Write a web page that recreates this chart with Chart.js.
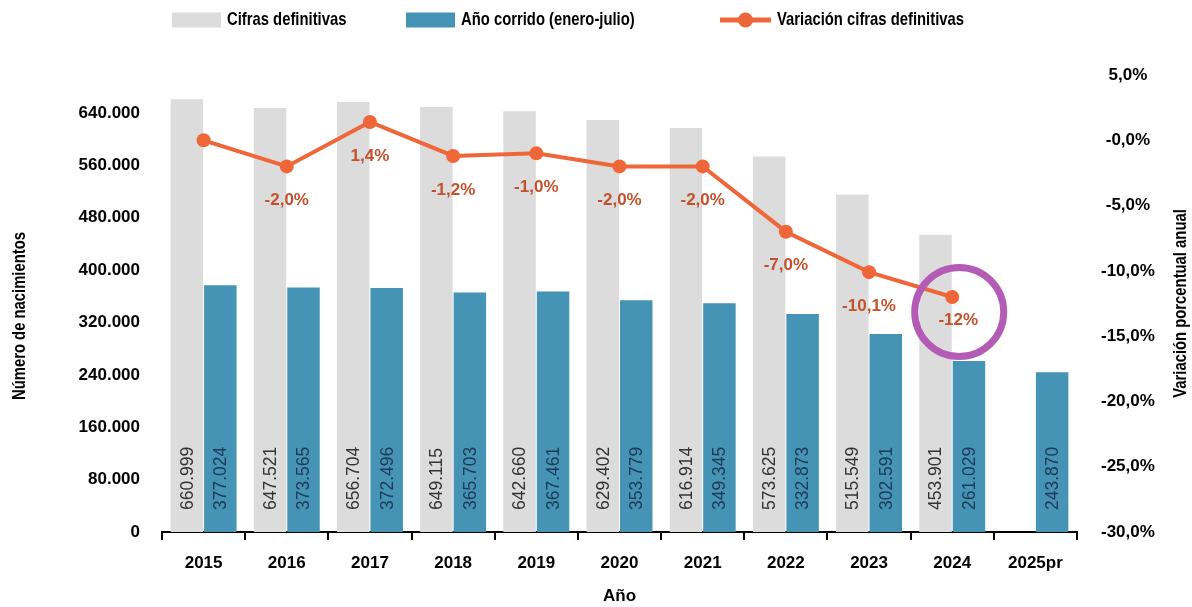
<!DOCTYPE html>
<html>
<head>
<meta charset="utf-8">
<script src="https://cdn.jsdelivr.net/npm/chart.js@4.4.1/dist/chart.umd.min.js"></script>
<style>
  html, body { margin: 0; padding: 0; background: #ffffff; }
  #wrap { width: 1192px; height: 607px; position: relative; }
</style>
</head>
<body>
<div id="wrap"><canvas id="c" width="1192" height="607"></canvas></div>
<script>
// ---------------- DATA ----------------
const categories = ['2015', '2016', '2017', '2018', '2019', '2020', '2021', '2022', '2023', '2024', '2025pr'];
const cifrasDefinitivas = [660999, 647521, 656704, 649115, 642660, 629402, 616914, 573625, 515549, 453901, null];
const anoCorrido = [377024, 373565, 372496, 365703, 367461, 353779, 349345, 332873, 302591, 261029, 243870];
const variacion = [0.0, -2.0, 1.4, -1.2, -1.0, -2.0, -2.0, -7.0, -10.1, -12.0, null];
const variacionLabels = ['', '-2,0%', '1,4%', '-1,2%', '-1,0%', '-2,0%', '-2,0%', '-7,0%', '-10,1%', '-12%', ''];
const leftTicks = [0, 80000, 160000, 240000, 320000, 400000, 480000, 560000, 640000];
const rightTicks = [-30, -25, -20, -15, -10, -5, 0, 5];
const seriesNames = ['Cifras definitivas', 'Año corrido (enero-julio)', 'Variación cifras definitivas'];
const axisTitles = { x: 'Año', left: 'Número de nacimientos', right: 'Variación porcentual anual' };
const highlightIndex = 9;

// ---------------- STYLE ----------------
const NUM_FONT = '"Liberation Sans", Arial, sans-serif';
const GREY = '#DCDCDC';
const BLUE = '#4593B5';
const ORANGE = '#EF6639';
const ORANGE_TXT = '#C2512C';
const PURPLE = '#B45BB6';

function fmtThousands(v) {
  return String(v).replace(/\B(?=(\d{3})+(?!\d))/g, '.');
}
function fmtPct(v) {
  const s = Math.abs(v).toFixed(1).replace('.', ',');
  return (v > 0 ? '' : '-') + s + '%';
}

// draw condensed bold text (horizontal squeeze of Liberation Sans Bold)
function condensedText(ctx, text, x, y, rotation, align) {
  ctx.save();
  ctx.translate(x, y);
  if (rotation) ctx.rotate(rotation);
  ctx.scale(0.78, 1);
  ctx.font = 'bold 19px ' + NUM_FONT;
  ctx.textAlign = align;
  ctx.textBaseline = 'middle';
  ctx.fillText(text, 0, 0);
  ctx.restore();
}

// ---------------- PLUGINS ----------------
const barLabelPlugin = {
  id: 'barLabels',
  afterDatasetsDraw(chart) {
    const ctx = chart.ctx;
    const area = chart.chartArea;
    const colors = ['#333333', '#1E3A56'];
    [0, 1].forEach(di => {
      const meta = chart.getDatasetMeta(di);
      const data = chart.data.datasets[di].data;
      meta.data.forEach((el, i) => {
        const v = data[i];
        if (v === null || v === undefined) return;
        ctx.save();
        ctx.translate(el.x, area.bottom - 22);
        ctx.rotate(-Math.PI / 2);
        ctx.font = '17.5px ' + NUM_FONT;
        ctx.fillStyle = colors[di];
        ctx.textAlign = 'left';
        ctx.textBaseline = 'middle';
        ctx.fillText(fmtThousands(v), 0, 1);
        ctx.restore();
      });
    });
  }
};

const lineLabelPlugin = {
  id: 'lineLabels',
  afterDatasetsDraw(chart) {
    const ctx = chart.ctx;
    const meta = chart.getDatasetMeta(2);
    ctx.save();
    ctx.font = 'bold 17px ' + NUM_FONT;
    ctx.fillStyle = ORANGE_TXT;
    ctx.textAlign = 'center';
    ctx.textBaseline = 'middle';
    meta.data.forEach((el, i) => {
      const t = variacionLabels[i];
      if (!t) return;
      const last = i === highlightIndex;
      ctx.fillText(t, el.x + (last ? 6 : 0), el.y + (last ? 23 : 34));
    });
    ctx.restore();
    // highlight circle
    const el = meta.data[highlightIndex];
    if (el) {
      ctx.save();
      ctx.beginPath();
      ctx.arc(el.x + 7, el.y + 15, 44.5, 0, Math.PI * 2);
      ctx.lineWidth = 7;
      ctx.strokeStyle = PURPLE;
      ctx.stroke();
      ctx.restore();
    }
  }
};

const legendAndTitlesPlugin = {
  id: 'legendTitles',
  afterDraw(chart) {
    const ctx = chart.ctx;
    const area = chart.chartArea;
    ctx.save();
    const ly = 20;
    // item 1
    ctx.fillStyle = GREY;
    ctx.fillRect(172, ly - 7.5, 49, 15);
    ctx.fillStyle = '#000';
    condensedText(ctx, seriesNames[0], 227, ly, 0, 'left');
    // item 2
    ctx.fillStyle = BLUE;
    ctx.fillRect(406, ly - 7.5, 49, 15);
    ctx.fillStyle = '#000';
    condensedText(ctx, seriesNames[1], 461, ly, 0, 'left');
    // item 3
    ctx.strokeStyle = ORANGE;
    ctx.lineWidth = 5;
    ctx.beginPath();
    ctx.moveTo(720, ly);
    ctx.lineTo(771, ly);
    ctx.stroke();
    ctx.fillStyle = ORANGE;
    ctx.beginPath();
    ctx.arc(745.5, ly, 7.5, 0, Math.PI * 2);
    ctx.fill();
    ctx.fillStyle = '#000';
    condensedText(ctx, seriesNames[2], 777, ly, 0, 'left');

    // axis titles
    condensedText(ctx, axisTitles.left, 20, 316, -Math.PI / 2, 'center');
    condensedText(ctx, axisTitles.right, 1181, (area.top + area.bottom) / 2, -Math.PI / 2, 'center');
    ctx.restore();
  }
};

// ---------------- CHART ----------------
const ctx = document.getElementById('c').getContext('2d');
new Chart(ctx, {
  data: {
    labels: categories,
    datasets: [
      {
        type: 'bar',
        label: seriesNames[0],
        data: cifrasDefinitivas,
        backgroundColor: GREY,
        yAxisID: 'y',
        order: 1,
        categoryPercentage: 0.805,
        barPercentage: 0.97
      },
      {
        type: 'bar',
        label: seriesNames[1],
        data: anoCorrido,
        backgroundColor: BLUE,
        yAxisID: 'y',
        order: 1,
        categoryPercentage: 0.805,
        barPercentage: 0.97
      },
      {
        type: 'line',
        label: seriesNames[2],
        data: variacion,
        borderColor: ORANGE,
        backgroundColor: ORANGE,
        borderWidth: 4,
        pointRadius: 7,
        pointBackgroundColor: ORANGE,
        pointBorderWidth: 0,
        tension: 0,
        yAxisID: 'y1',
        order: 0
      }
    ]
  },
  options: {
    responsive: false,
    devicePixelRatio: 1,
    animation: false,
    layout: { padding: { top: 75, bottom: 0, left: 0, right: 0 } },
    plugins: {
      legend: { display: false },
      tooltip: { enabled: false }
    },
    scales: {
      x: {
        offset: true,
        grid: {
          display: true,
          drawOnChartArea: false,
          drawTicks: true,
          tickLength: 8,
          color: '#000',
          lineWidth: 2,
          offset: true
        },
        border: { display: true, color: '#000', width: 2 },
        ticks: {
          font: { family: NUM_FONT, size: 17, weight: 'bold' },
          color: '#000',
          padding: 13,
          maxRotation: 0
        },
        title: {
          display: true,
          text: axisTitles.x,
          font: { family: NUM_FONT, size: 17, weight: 'bold' },
          color: '#000',
          padding: { top: 0, bottom: 0 }
        },
        afterFit(scale) { scale.height = 75; }
      },
      y: {
        position: 'left',
        min: 0,
        max: 698000,
        grid: { display: false, drawTicks: false },
        border: { display: false },
        ticks: {
          font: { family: NUM_FONT, size: 17, weight: 'bold' },
          color: '#000',
          padding: 22,
          callback: (v) => fmtThousands(v)
        },
        afterBuildTicks(scale) { scale.ticks = leftTicks.map(v => ({ value: v })); },
        afterFit(scale) { scale.width = 162; }
      },
      y1: {
        position: 'right',
        min: -30,
        max: 5,
        grid: { display: false, drawTicks: false },
        border: { display: false },
        ticks: {
          font: { family: NUM_FONT, size: 17, weight: 'bold' },
          color: '#000',
          padding: 24,
          crossAlign: 'center',
          callback: (v) => fmtPct(v)
        },
        afterBuildTicks(scale) { scale.ticks = rightTicks.map(v => ({ value: v })); },
        afterFit(scale) { scale.width = 115; }
      }
    }
  },
  plugins: [barLabelPlugin, lineLabelPlugin, legendAndTitlesPlugin]
});
</script>
</body>
</html>
